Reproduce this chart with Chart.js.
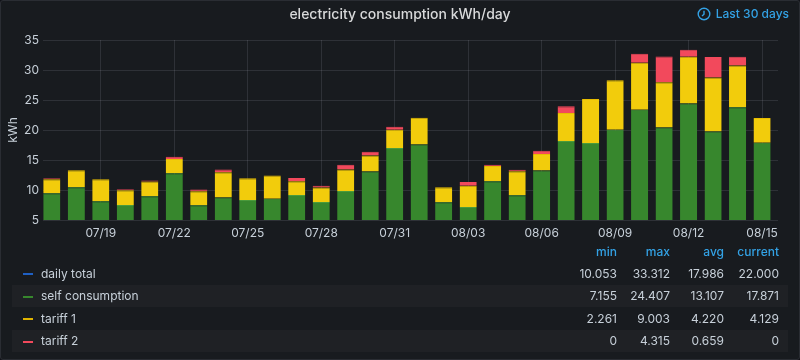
<!DOCTYPE html>
<html>
<head>
<meta charset="utf-8">
<script src="https://cdn.jsdelivr.net/npm/chart.js@4.4.0/dist/chart.umd.min.js"></script>
<style>
  html, body { margin: 0; padding: 0; background: #111217; }
  body { width: 800px; height: 360px; overflow: hidden; font-family: Inter, Roboto, sans-serif; }
  .panel {
    position: absolute; left: 0; top: 0; width: 798px; height: 358px;
    background: #181b1f; border: 1px solid #2a2d33; border-radius: 3px;
  }
  .title {
    position: absolute; left: 0; width: 800px; top: 5px; text-align: center;
    color: #d8d9da; font-size: 14px; font-weight: 500;
  }
  .range {
    position: absolute; right: 11px; top: 6px; color: #33a2e5; font-size: 12px; font-weight: 500;
    display: flex; align-items: center; gap: 5px;
  }
  #chartWrap { position: absolute; left: 0; top: 0; width: 800px; height: 245px; }
  table.legend {
    position: absolute; left: 12px; top: 241px; width: 776px;
    border-collapse: collapse; font-size: 12px; color: #c7d0d9;
  }
  .legend th { color: #33a2e5; font-weight: 500; text-align: right; height: 21px; padding: 0; }
  .legend td { height: 22.5px; padding: 0; text-align: right; }
  .legend td.name { text-align: left; padding-left: 29px; position: relative; }
  .legend td.name i {
    position: absolute; left: 11px; top: 11px; width: 10px; height: 2px;
  }
  .legend tr.alt td { background: #1f2125; }
</style>
</head>
<body>
<div class="panel"></div>
<div id="chartWrap"><canvas id="energyChart"></canvas></div>
<div class="title">electricity consumption kWh/day</div>
<div class="range">
  <svg width="14" height="14" viewBox="0 0 14 14"><circle cx="7" cy="7" r="5.8" fill="none" stroke="#33a2e5" stroke-width="1.4"/><path d="M7 3.8V7.3L5 9" fill="none" stroke="#33a2e5" stroke-width="1.4"/></svg>
  <span>Last 30 days</span>
</div>
<table class="legend" id="legendTable"></table>

<script>
// days shown on the x axis (07/17 .. 08/15)
const days = ['07/17','07/18','07/19','07/20','07/21','07/22','07/23','07/24','07/25','07/26',
              '07/27','07/28','07/29','07/30','07/31','08/01','08/02','08/03','08/04','08/05',
              '08/06','08/07','08/08','08/09','08/10','08/11','08/12','08/13','08/14','08/15'];
const tickDays = [2, 5, 8, 11, 14, 17, 20, 23, 26, 29];
const yTicks = [5, 10, 15, 20, 25, 30, 35];

const selfConsumption = [9.46, 10.47, 8.13, 7.50, 8.96, 12.80, 7.45, 8.73, 8.34, 8.56,
                         9.18, 8.01, 9.85, 13.08, 16.99, 17.60, 7.96, 7.16, 11.47, 9.13,
                         13.25, 18.16, 17.83, 20.05, 23.39, 20.43, 24.41, 19.77, 23.78, 17.87];
const tariff1 = [2.34, 2.83, 3.67, 2.46, 2.44, 2.35, 2.35, 4.24, 3.63, 3.85,
                 2.26, 2.39, 3.56, 2.67, 3.06, 4.46, 2.51, 3.53, 2.51, 4.01,
                 2.73, 4.68, 7.35, 8.25, 7.81, 7.53, 7.79, 9.00, 6.97, 4.13];
const tariff2 = [0.17, 0, 0, 0.17, 0.17, 0.38, 0.27, 0.43, 0, 0,
                 0.57, 0.29, 0.79, 0.62, 0.50, 0, 0, 0.66, 0.22, 0.22,
                 0.56, 1.11, 0, 0, 1.50, 4.30, 1.18, 3.40, 1.45, 0];

// legend stats as shown in the panel
const legendNames = ['daily total', 'self consumption', 'tariff 1', 'tariff 2'];
const legendColors = ['#1f60c4', '#37872d', '#e0b400', '#f2495c'];
const statMin = ['10.053', '7.155', '2.261', '0'];
const statMax = ['33.312', '24.407', '9.003', '4.315'];
const statAvg = ['17.986', '13.107', '4.220', '0.659'];
const statCurrent = ['22.000', '17.871', '4.129', '0'];

const toPoints = arr => arr.map((v, i) => ({ x: i, y: v }));

function barSet(label, values, fill, line) {
    return {
        label: label,
        data: toPoints(values),
        backgroundColor: fill,
        borderColor: line,
        borderWidth: { top: 1, left: 0, right: 0, bottom: 0 },
        borderSkipped: false,
        categoryPercentage: 1,
        barPercentage: 0.7,
    };
}

const gridColor = 'rgba(204, 204, 220, 0.13)';

new Chart(document.getElementById('energyChart'), {
    type: 'bar',
    data: {
        datasets: [
            barSet('self consumption', selfConsumption, '#37872d', '#4a9a3c'),
            barSet('tariff 1', tariff1, '#f2cc0c', '#e8bd00'),
            barSet('tariff 2', tariff2, '#f2495c', '#f2495c'),
        ]
    },
    options: {
        responsive: true,
        maintainAspectRatio: false,
        animation: false,
        layout: { padding: { top: 40, right: 22, left: 0, bottom: 0 } },
        plugins: {
            legend: { display: false },
            tooltip: { enabled: false }
        },
        scales: {
            x: {
                type: 'linear',
                stacked: true,
                offset: false,
                min: -0.36,
                max: 29.65,
                afterBuildTicks: scale => { scale.ticks = tickDays.map(v => ({ value: v })); },
                afterFit: scale => { scale.height = 25; },
                ticks: {
                    color: '#c7d0d9',
                    font: { family: 'Inter', size: 12 },
                    padding: 6,
                    maxRotation: 0,
                    autoSkip: false,
                    callback: v => days[v]
                },
                grid: { color: gridColor, drawTicks: false, offset: false },
                border: { display: false }
            },
            y: {
                stacked: true,
                min: 5,
                max: 35,
                afterBuildTicks: scale => { scale.ticks = yTicks.map(v => ({ value: v })); },
                afterFit: scale => { scale.width = 43; },
                ticks: {
                    color: '#c7d0d9',
                    font: { family: 'Inter', size: 12 },
                    padding: 4
                },
                title: {
                    display: true,
                    text: 'kWh',
                    color: '#c7d0d9',
                    font: { family: 'Inter', size: 12 },
                    padding: { top: 6, bottom: 0 }
                },
                grid: { color: gridColor, drawTicks: false },
                border: { display: false }
            }
        }
    }
});

// legend table
const table = document.getElementById('legendTable');
let html = '<tr><th></th><th style="width:70px">min</th><th style="width:53px">max</th>' +
           '<th style="width:54px">avg</th><th style="width:55px">current</th><th style="width:9px"></th></tr>';
legendNames.forEach((name, i) => {
    html += '<tr class="' + (i % 2 ? 'alt' : '') + '">' +
        '<td class="name"><i style="background:' + legendColors[i] + '"></i>' + name + '</td>' +
        '<td>' + statMin[i] + '</td><td>' + statMax[i] + '</td>' +
        '<td>' + statAvg[i] + '</td><td>' + statCurrent[i] + '</td><td></td></tr>';
});
table.innerHTML = html;
</script>
</body>
</html>
